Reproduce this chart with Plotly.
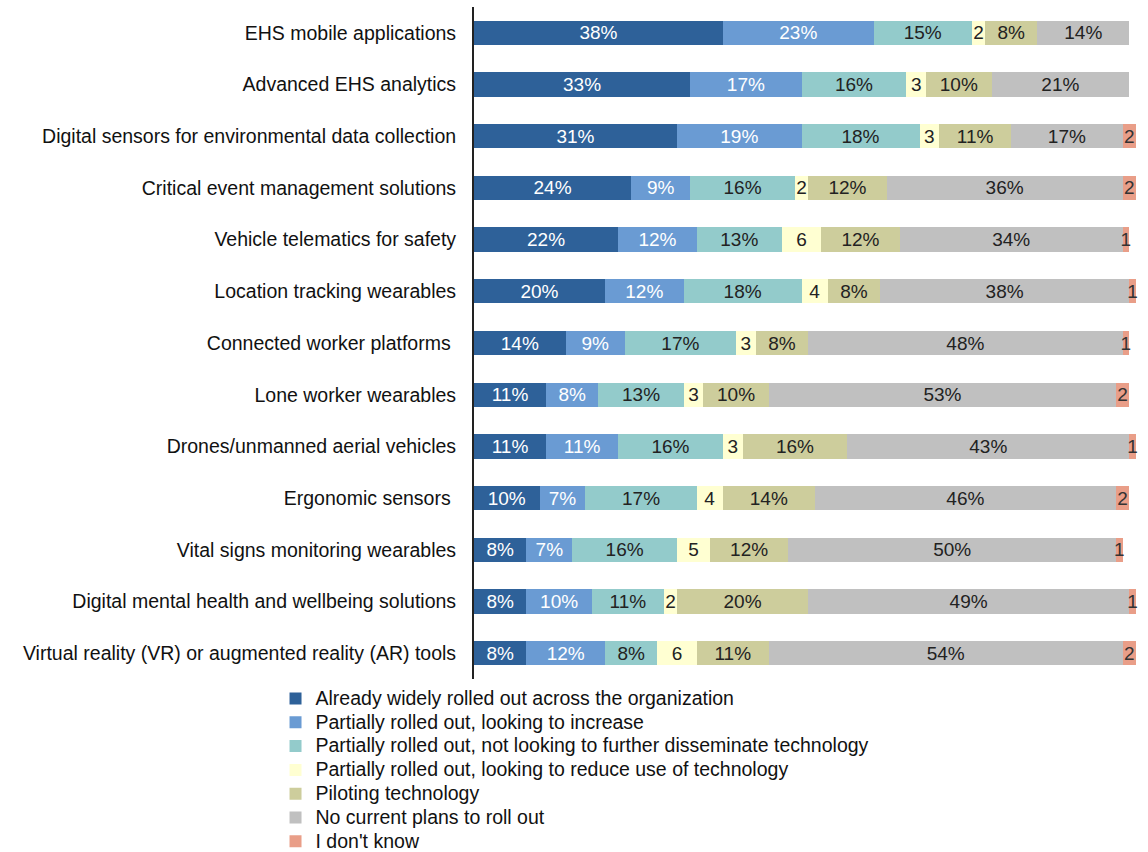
import plotly.graph_objects as go

categories = [
    "EHS mobile applications",
    "Advanced EHS analytics",
    "Digital sensors for environmental data collection",
    "Critical event management solutions",
    "Vehicle telematics for safety",
    "Location tracking wearables",
    "Connected worker platforms ",
    "Lone worker wearables",
    "Drones/unmanned aerial vehicles",
    "Ergonomic sensors ",
    "Vital signs monitoring wearables",
    "Digital mental health and wellbeing solutions",
    "Virtual reality (VR) or augmented reality (AR) tools",
]

series_names = [
    "Already widely rolled out across the organization",
    "Partially rolled out, looking to increase",
    "Partially rolled out, not looking to further disseminate technology",
    "Partially rolled out, looking to reduce use of technology",
    "Piloting technology",
    "No current plans to roll out",
    "I don't know",
]

widely = [38, 33, 31, 24, 22, 20, 14, 11, 11, 10, 8, 8, 8]
increase = [23, 17, 19, 9, 12, 12, 9, 8, 11, 7, 7, 10, 12]
not_further = [15, 16, 18, 16, 13, 18, 17, 13, 16, 17, 16, 11, 8]
reduce = [2, 3, 3, 2, 6, 4, 3, 3, 3, 4, 5, 2, 6]
piloting = [8, 10, 11, 12, 12, 8, 8, 10, 16, 14, 12, 20, 11]
no_plans = [14, 21, 17, 36, 34, 38, 48, 53, 43, 46, 50, 49, 54]
dont_know = [0, 0, 2, 2, 1, 1, 1, 2, 1, 2, 1, 1, 2]

all_values = [widely, increase, not_further, reduce, piloting, no_plans, dont_know]
colors = ["#2E6199", "#6A9BD3", "#93CBCB", "#FFFFD2", "#CDCD9C", "#C0C0C0", "#E99E88"]
text_colors = ["white", "white", "#222222", "#222222", "#222222", "#222222", "#333333"]
show_pct = [True, True, True, False, True, True, False]

FONT = "Liberation Sans, Arial, sans-serif"
FS = 19.5

fig = go.Figure()
for name, vals, col, tcol, pct in zip(series_names, all_values, colors, text_colors, show_pct):
    texts = [("" if v == 0 else (f"{v}%" if pct else f"{v}")) for v in vals]
    fig.add_trace(go.Bar(
        name=f'<span style="font-size:{FS}px">{name}</span>',
        y=categories,
        x=vals,
        orientation="h",
        marker=dict(color=col, line=dict(width=0)),
        text=texts,
        textposition="inside",
        insidetextanchor="middle",
        textangle=0,
        constraintext="none",
        textfont=dict(family=FONT, size=19, color=tcol),
        cliponaxis=False,
        width=0.47,
    ))

fig.update_layout(
    barmode="stack",
    width=1148,
    height=852,
    margin=dict(l=474, r=9, t=7, b=173, autoexpand=False),
    paper_bgcolor="white",
    plot_bgcolor="white",
    font=dict(family=FONT, size=FS, color="#111111"),
    showlegend=True,
    legend=dict(
        orientation="v",
        xref="container",
        yref="container",
        x=0.240,
        xanchor="left",
        y=0.200,
        yanchor="top",
        font=dict(family=FONT, size=16, color="#111111"),
        traceorder="normal",
        tracegroupgap=0,
        bgcolor="rgba(0,0,0,0)",
        itemclick=False,
    ),
)
fig.update_xaxes(range=[0, 101.5], visible=False, showgrid=False, zeroline=False)
fig.update_yaxes(
    autorange="reversed",
    automargin=False,
    showline=True,
    linecolor="#222222",
    linewidth=2,
    showgrid=False,
    zeroline=False,
    ticks="",
    ticklabelstandoff=12,
    tickfont=dict(family=FONT, size=FS, color="#111111"),
)

fig.write_html("out.html")
